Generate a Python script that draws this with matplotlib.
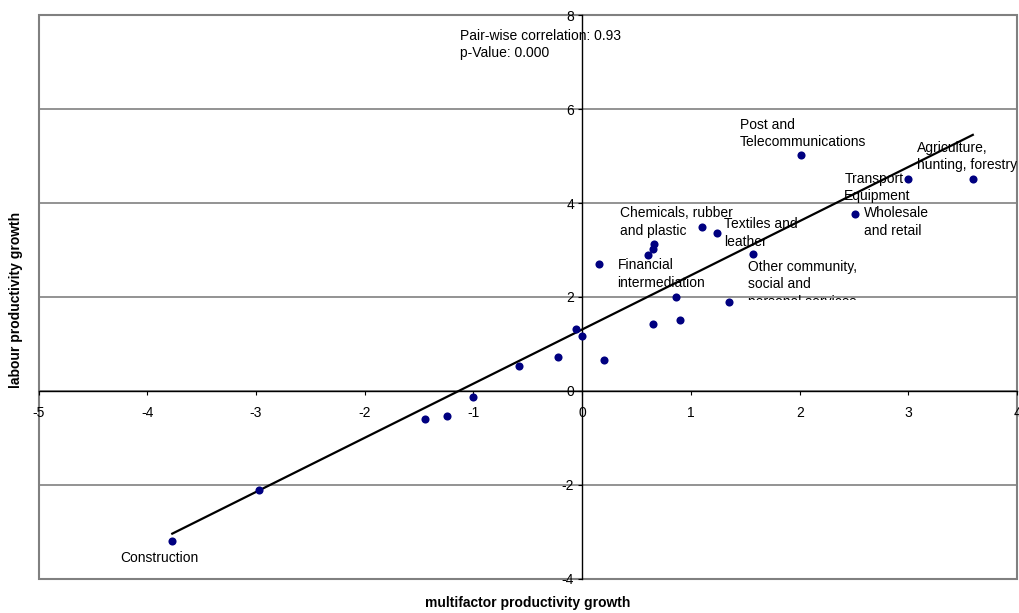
import matplotlib
matplotlib.use("Agg")
import numpy as np
import matplotlib.pyplot as plt
from matplotlib.patches import Rectangle
from matplotlib.transforms import Bbox, TransformedBbox

plt.rcParams["font.family"] = ["Liberation Sans", "DejaVu Sans"]
plt.rcParams["font.size"] = 10
plt.rcParams["axes.unicode_minus"] = False

# industry growth rates (multifactor vs labour productivity)
mfp = [-3.77, -2.97, -1.45, -1.245, -1.006, -0.58, -0.22, -0.057, 0.002,
       0.198, 0.654, 0.866, 0.90, 0.158, 0.605, 0.651, 0.657, 1.098, 1.239,
       1.573, 1.353, 2.015, 2.505, 2.998, 3.592]
lp = [-3.19, -2.11, -0.60, -0.53, -0.13, 0.53, 0.72, 1.31, 1.18,
      0.67, 1.43, 1.99, 1.51, 2.71, 2.89, 3.02, 3.13, 3.48, 3.36,
      2.92, 1.89, 5.03, 3.77, 4.51, 4.51]

# labelled industries: (index into mfp/lp, text)
labelled = [
    (21, "Post and\nTelecommunications"),
    (24, "Agriculture,\nhunting, forestry"),
    (23, "Transport\nEquipment"),
    (22, "Wholesale\nand retail"),
    (17, "Chemicals, rubber\nand plastic"),
    (18, "Textiles and\nleather"),
    (13, "Financial\nintermediation"),
    (19, "Other community,\nsocial and\npersonal services"),
    (0, "Construction"),
]
# label offsets in points and horizontal alignment
label_offsets = {
    21: (-44, 15, "left"),
    24: (-40, 16, "left"),
    23: (-46, -6, "left"),
    22: (6.5, -6, "left"),
    17: (-59, 4, "left"),
    18: (5, 0, "left"),
    13: (13, -7.5, "left"),
    19: (-3.5, -22, "left"),
    0: (-9, -12, "center"),
}

corr_text = "Pair-wise correlation: 0.93\np-Value: 0.000"

x = np.array(mfp)
y = np.array(lp)
slope, intercept = np.polyfit(x, y, 1)

fig = plt.figure(figsize=(10.19, 6.13), dpi=100)
ax = fig.add_axes([0.0378, 0.0555, 0.9604, 0.92])
ax.set_xlim(-5, 4)
ax.set_ylim(-4, 8)

# horizontal gridlines and grey frame
for gy in range(-4, 9, 2):
    ax.axhline(gy, color="#808080", lw=1.2, zorder=1)
ax.add_patch(Rectangle((0, 0), 1, 1, transform=ax.transAxes, fill=False,
                       edgecolor="#808080", lw=1.5, zorder=1, clip_on=False))

# axes crossing at the origin
for side in ["top", "right"]:
    ax.spines[side].set_visible(False)
ax.spines["left"].set_position(("data", 0))
ax.spines["bottom"].set_position(("data", 0))
for side in ["left", "bottom"]:
    ax.spines[side].set_color("black")
    ax.spines[side].set_linewidth(1.0)
    ax.spines[side].set_zorder(2)

ax.set_xticks(range(-5, 5))
ax.set_yticks(range(-4, 9, 2))
ax.tick_params(axis="both", direction="out", length=3, width=0.8,
               labelsize=10, color="black")
ax.tick_params(axis="x", pad=8)
ax.tick_params(axis="y", pad=3)

# fitted line and points
xs = np.array([x.min(), x.max()])
ax.plot(xs, slope * xs + intercept, color="black", lw=1.6, zorder=3)
ax.scatter(x, y, s=34, color="#000080", zorder=4, linewidths=0)

for i, text in labelled:
    dx, dy, ha = label_offsets[i]
    t = ax.annotate(text, (x[i], y[i]), xytext=(dx, dy),
                    textcoords="offset points", ha=ha, va="center",
                    fontsize=10, linespacing=1.3, zorder=5)
    if i == 19:
        # this label box cuts off just below its second line
        clip = TransformedBbox(Bbox([[-5, 1.93], [4, 8]]), ax.transData)
        t.set_clip_on(True)
        t.set_clip_box(clip)

ax.text(-1.126, 7.37, corr_text, ha="left", va="center", fontsize=10,
        linespacing=1.3, zorder=5)

fig.text(0.0157, 0.51, "labour productivity growth", rotation=90,
         ha="center", va="center", fontsize=10, fontweight="bold")
fig.text(0.518, 0.016, "multifactor productivity growth", ha="center",
         va="center", fontsize=10, fontweight="bold")

fig.savefig("out.png", dpi=100)
plt.close(fig)
